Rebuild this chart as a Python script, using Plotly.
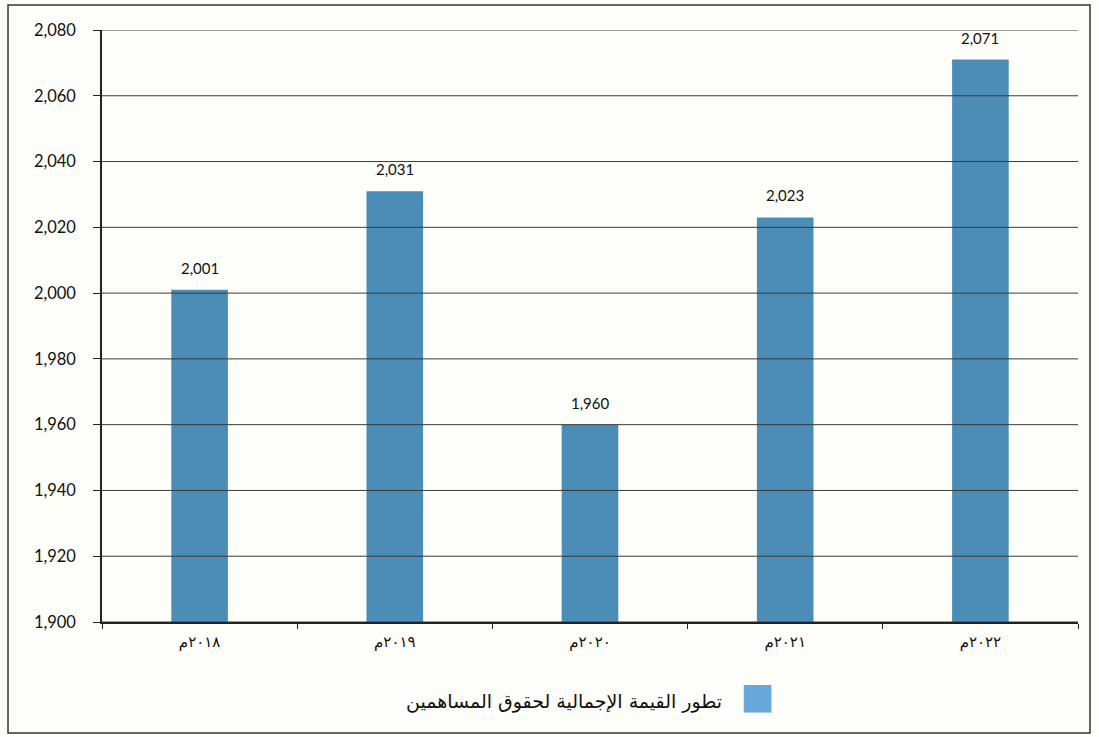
import plotly.graph_objects as go

years = ["٢٠١٨م", "٢٠١٩م", "٢٠٢٠م", "٢٠٢١م", "٢٠٢٢م"]
values = [2001, 2031, 1960, 2023, 2071]
y_ticks = [1900, 1920, 1940, 1960, 1980, 2000, 2020, 2040, 2060, 2080]
series_name = "تطور القيمة الإجمالية لحقوق المساهمين"

bar_color = "#4b8db6"
legend_color = "#68a8dc"
bg = "#fdfdf9"

fig = go.Figure()
fig.add_trace(go.Bar(
    x=years, y=values, name=series_name,
    marker=dict(color=bar_color, line=dict(width=0)),
    showlegend=False, hoverinfo="x+y",
))

shapes = []
for t in y_ticks:
    shapes.append(dict(type="line", xref="paper", yref="y", x0=0, x1=1, y0=t, y1=t,
                       line=dict(color="#3a3a3a", width=1), layer="above"))
shapes.append(dict(type="rect", xref="paper", yref="paper",
                   x0=-0.0963, x1=1.0123, y0=-0.1875, y1=1.0422,
                   line=dict(color="#333", width=1.5), layer="below"))

annotations = []
for xv, yv in zip(years, values):
    annotations.append(dict(
        x=xv, y=yv, xref="x", yref="y", text=f"{yv:,}", showarrow=False,
        yanchor="middle", yshift=22,
        font=dict(family="Lato, 'Open Sans', sans-serif", size=15, color="#111"),
    ))
annotations.append(dict(
    xref="paper", yref="paper", x=0.5, y=-0.124, xanchor="center", yanchor="middle",
    showarrow=False,
    text=series_name + "   <span style='color:" + legend_color + "; font-size:36px'>■</span>",
    font=dict(family="'DejaVu Sans', sans-serif", size=19, color="#111"),
))

fig.update_layout(
    width=1099, height=737,
    margin=dict(l=102, r=21, t=30, b=115),
    paper_bgcolor=bg, plot_bgcolor=bg,
    bargap=0.71,
    shapes=shapes,
    annotations=annotations,
    font=dict(family="Lato, 'DejaVu Sans', sans-serif", color="#111"),
)
fig.update_xaxes(
    type="category", showgrid=False, showline=True, linecolor="#222", linewidth=1.5,
    ticks="outside", tickson="boundaries", ticklen=5, tickcolor="#222",
    ticklabelstandoff=5,
    tickfont=dict(family="'DejaVu Sans', sans-serif", size=15, color="#111"),
)
fig.update_yaxes(
    range=[1900, 2080], tickvals=y_ticks, tickformat=",", showgrid=False,
    showline=True, linecolor="#222", linewidth=1.5,
    ticks="outside", ticklen=7, tickcolor="#222",
    ticklabelstandoff=14,
    tickfont=dict(family="Lato, 'Open Sans', sans-serif", size=16.5, color="#111"),
    zeroline=False,
)

fig.write_html("out.html", config={"displayModeBar": False},
               post_script="document.body.style.margin='0';")
